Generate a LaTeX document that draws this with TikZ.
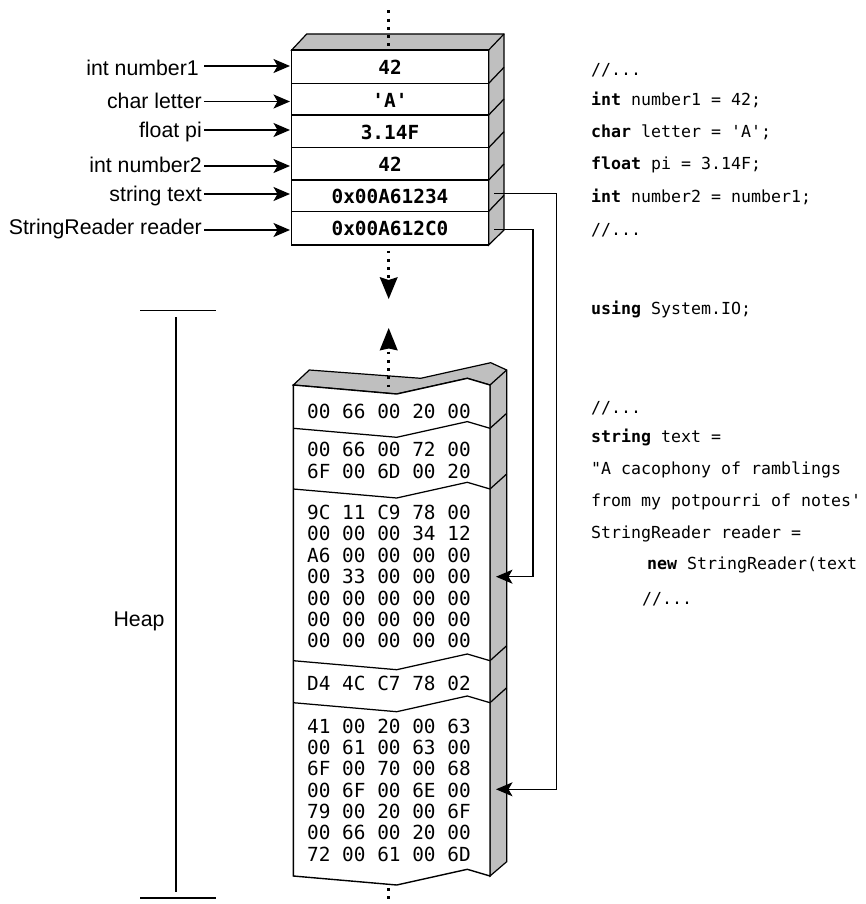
\documentclass[tikz,border=0pt]{standalone}
\usepackage{fontspec}
\setmainfont{Liberation Sans}
\setmonofont{DejaVu Sans Mono}
\usetikzlibrary{arrows.meta}
\definecolor{sidegray}{HTML}{BFBFBF}
\tikzset{
  outl/.style={draw=black,line width=1.4pt,line join=miter},
  side/.style={fill=sidegray,draw=black,line width=1.2pt,line join=miter},
  wire/.style={draw=black,line width=1.25pt},
  dotline/.style={draw=black,line width=2.9pt,dash pattern=on 2.9pt off 5.35pt},
  lbl/.style={anchor=east,inner sep=0pt,font=\fontsize{21.3}{24}\selectfont},
  val/.style={inner sep=0pt,anchor=center,font=\fontsize{19.4}{21}\ttfamily\bfseries},
  hexl/.style={inner sep=0pt,anchor=west,font=\fontsize{19.4}{21}\ttfamily},
  code/.style={inner sep=0pt,anchor=base west,font=\fontsize{16.6}{20}\ttfamily},
  ptr/.style={wire,-{Stealth[length=16.5pt,width=14pt,inset=4pt]}},
}
\begin{document}
\begin{tikzpicture}[x=1pt,y=-1pt]
\useasboundingbox (0,0) rectangle (865,904);
% stack
\draw[side] (291.7,50) -- (306.7,34) -- (504,34) -- (504,230) -- (488.7,245) -- (488.7,50) -- cycle;
\draw[side] (488.7,50) -- (504,34);
\foreach \y/\yy in {83.3/67.3,115/99,147.7/131.7,180/164,211.3/195.3}
  \draw[wire] (488.7,\y) -- (504,\yy);
\draw[outl,fill=white] (291.7,50) rectangle (488.7,245);
\foreach \y in {83.3,115,147.7,180,211.3}
  \draw[wire] (291.7,\y) -- (488.7,\y);
\coordinate (tip1) at (290,66);
\coordinate (tip2) at (290,101.5);
\coordinate (tip3) at (290,130);
\coordinate (tip4) at (290,166);
\coordinate (tip5) at (290,194);
\coordinate (tip6) at (290,230);
\node[val] (v1) at (390,67) {42};
\node[val] (v2) at (390,100) {'A'};
\node[val] (v3) at (390,132) {3.14F};
\node[val] (v4) at (390,164) {42};
\node[val] (v5) at (390,196) {0x00A61234};
\node[val] (v6) at (390,228) {0x00A612C0};
% labels
\node[lbl] (l1) at (199,68) {int number1};
\node[lbl] (l2) at (202,101) {char letter};
\node[lbl] (l3) at (202,132) {float pi};
\node[lbl] (l4) at (202,165) {int number2};
\node[lbl] (l5) at (202,196) {string text};
\node[lbl] (l6) at (202,229) {StringReader reader};
\foreach \i/\yy in {1/66,2/101.5,3/130,4/166,5/194,6/230}
  \draw[ptr] (204,\yy) -- (tip\i);
% heap
\draw[side] (293.3,385) -- (309.3,370) -- (420.7,378.3) -- (490.7,362.7) -- (506.7,370) -- (506.7,861.7) -- (490,876) -- (490,385) -- (467.3,378.3) -- (396.7,394) -- cycle;
\draw[wire] (490,385) -- (506.7,370);
\foreach \y in {428.3,489,660.7,702.7}
  \draw[wire] (490,\y) -- (506.7,\y-15);
\draw[outl,fill=white] (293.3,385) -- (396.7,394) -- (467.3,378.3) -- (490,385) -- (490,876) -- (467.3,869.3) -- (396.7,885) -- (293.3,876) -- cycle;
\foreach \y in {428.3,489,660.7,702.7}
  \draw[wire] (293.3,\y) -- (396.7,\y+9) -- (467.3,\y-6.7) -- (490,\y);
% dots and big arrows
\draw[dotline] (388.7,10.5) -- (388.7,47);
\draw[dotline] (388.7,250.5) -- (388.7,279);
\fill[black] (388.7,299) -- (379.6,277) -- (388.7,280) -- (397.8,277) -- cycle;
\draw[dotline] (388.7,351.5) -- (388.7,388);
\fill[black] (388.7,328) -- (379.6,350.5) -- (388.7,348.5) -- (397.8,350.5) -- cycle;
\draw[dotline] (388.7,888) -- (388.7,904);
% heap bytes
\foreach \n/\y/\t in {a/411.7/00 66 00 20 00,b/449/00 66 00 72 00,c/471/6F 00 6D 00 20,
  d/512.7/9C 11 C9 78 00,e/533.7/00 00 00 34 12,f/555/A6 00 00 00 00,g/576.7/00 33 00 00 00,
  h/598/00 00 00 00 00,i/619.5/00 00 00 00 00,j/640/00 00 00 00 00,k/683/D4 4C C7 78 02,
  m/726.7/41 00 20 00 63,n/747.3/00 61 00 63 00,o/768/6F 00 70 00 68,p/790/00 6F 00 6E 00,
  q/811/79 00 20 00 6F,r/832.7/00 66 00 20 00,s/854/72 00 61 00 6D}
  \node[hexl] (h\n) at (307,\y) {\t};
% pointers
\coordinate (p1) at (494,193.3);
\coordinate (p2) at (494,229.5);
\coordinate (q1) at (496,789.3);
\coordinate (q2) at (496,576.7);
\draw[ptr] (p1) -- (556.7,193.3) -- (556.7,789.3) -- (q1);
\draw[ptr] (p2) -- (533,229.5) -- (533,576.7) -- (q2);
% heap bracket
\coordinate (bt) at (176,317);
\coordinate (bb) at (176,892);
\draw[wire] (140,310.7) -- (216,310.7);
\draw[wire] (bt) -- (bb);
\draw[wire] (140,898) -- (216,898);
\node[inner sep=0pt,font=\fontsize{21.3}{24}\selectfont] (heap) at (139,621) {Heap};
% code
\foreach \n/\y/\t in {a/76/{//...},b/106/{\textbf{int} number1 = 42;},c/138/{\textbf{char} letter = 'A';},
  d/170/{\textbf{float} pi = 3.14F;},e/202/{\textbf{int} number2 = number1;},f/235/{//...},
  g/314/{\textbf{using} System.IO;},h/413/{//...},i/442/{\textbf{string} text =},
  j/474/{"A cacophony of ramblings},k/506/{from my potpourri of notes'},m/538/{StringReader reader =}}
  \node[code] (c\n) at (591,\y) {\t};
\node[code] (cn) at (647,569) {\textbf{new} StringReader(text};
\node[code] (cp) at (642,604) {//...};
\end{tikzpicture}
\end{document}
